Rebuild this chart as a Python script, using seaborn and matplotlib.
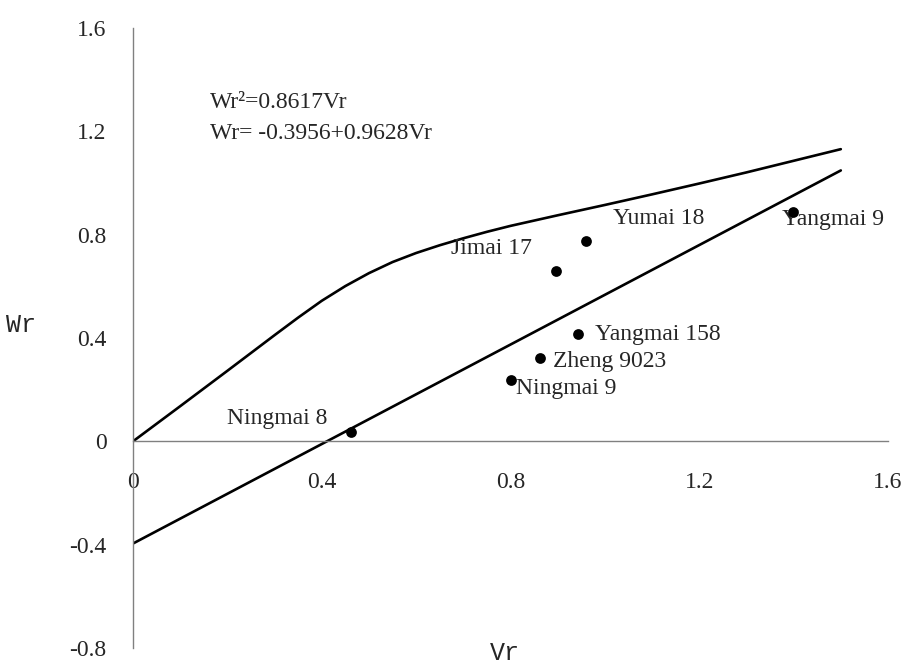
import matplotlib
matplotlib.use("Agg")
import matplotlib.pyplot as plt
import seaborn as sns
import pandas as pd
from matplotlib.ticker import FuncFormatter

# datos
curva_vr = [0, 0.1, 0.2, 0.3, 0.35, 0.4, 0.45, 0.5, 0.55, 0.6, 0.65, 0.7, 0.75, 0.8,
            0.9, 1.0, 1.1, 1.2, 1.3, 1.4, 1.5]
curva_wr = [0, 0.136, 0.273, 0.411, 0.479, 0.544, 0.601, 0.651, 0.694, 0.729, 0.759,
            0.786, 0.811, 0.834, 0.875, 0.915, 0.956, 0.998, 1.041, 1.086, 1.131]

recta_vr = [0.0, 1.5]
recta_wr = [-0.3956, 1.0486]

variedades = ["Ningmai 8", "Ningmai 9", "Zheng 9023", "Yangmai 158", "Jimai 17", "Yumai 18", "Yangmai 9"]
vr = [0.463, 0.800, 0.862, 0.942, 0.896, 0.959, 1.399]
wr = [0.035, 0.237, 0.322, 0.415, 0.660, 0.776, 0.886]

x_ticks = [0, 0.4, 0.8, 1.2, 1.6]
y_ticks = [-0.8, -0.4, 0, 0.4, 0.8, 1.2, 1.6]

# desplazamiento de etiquetas (pixeles) y alineacion
offsets = {
    "Ningmai 8": (-24, 14, "right"),
    "Ningmai 9": (6, -8, "left"),
    "Zheng 9023": (13, -3, "left"),
    "Yangmai 158": (17, 0, "left"),
    "Jimai 17": (-24, 22, "right"),
    "Yumai 18": (27, 22, "left"),
    "Yangmai 9": (-11, -7, "left"),
}

sns.set_style("white")
plt.rcParams["font.family"] = ["Liberation Serif", "DejaVu Serif"]
plt.rcParams["axes.unicode_minus"] = False

df_curva = pd.DataFrame({"Vr": curva_vr, "Wr": curva_wr})
df_recta = pd.DataFrame({"Vr": recta_vr, "Wr": recta_wr})
df_pts = pd.DataFrame({"Vr": vr, "Wr": wr, "nombre": variedades})

fig = plt.figure(figsize=(9.1, 6.68), dpi=100)
ax = fig.add_axes([133 / 910, 20 / 668, 755 / 910, 620 / 668])

sns.lineplot(data=df_curva, x="Vr", y="Wr", color="black", linewidth=1.9, estimator=None, ax=ax)
sns.lineplot(data=df_recta, x="Vr", y="Wr", color="black", linewidth=1.9, estimator=None, ax=ax)
sns.scatterplot(data=df_pts, x="Vr", y="Wr", color="black", s=60, edgecolor="black", linewidth=0, zorder=5, ax=ax)

for n, x, y in zip(variedades, vr, wr):
    dx, dy, ha = offsets[n]
    ax.annotate(n, (x, y), xytext=(dx, dy), textcoords="offset pixels",
                ha=ha, va="center", fontsize=17)

ax.text(0.163, 1.31, "Wr\u00b2=0.8617Vr", fontsize=17, va="center", ha="left")
ax.text(0.163, 1.19, "Wr= -0.3956+0.9628Vr", fontsize=17, va="center", ha="left")

ax.set_xlim(0, 1.6)
ax.set_ylim(-0.8, 1.6)
ax.set_xticks(x_ticks)
ax.set_yticks(y_ticks)
fmt = FuncFormatter(lambda v, p: "%g" % round(v, 2))
ax.xaxis.set_major_formatter(fmt)
ax.yaxis.set_major_formatter(fmt)

ax.spines["top"].set_visible(False)
ax.spines["right"].set_visible(False)
ax.spines["bottom"].set_position(("data", 0))
for s in ["left", "bottom"]:
    ax.spines[s].set_color("#808080")
    ax.spines[s].set_linewidth(1.0)
ax.tick_params(direction="in", length=6, width=1, color="#808080", labelsize=17)
ax.tick_params(axis="x", pad=22)
ax.tick_params(axis="y", pad=19)

mono = ["Liberation Mono", "DejaVu Sans Mono"]
ax.set_xlabel("Vr", fontsize=18, family=mono)
ax.set_ylabel("Wr", fontsize=18, rotation=0, family=mono)
ax.xaxis.set_label_coords(0.493, -0.008)
ax.yaxis.set_label_coords(-0.148, 0.521)
ax.xaxis.label.set_va("center")
ax.yaxis.label.set_va("center")
ax.yaxis.label.set_ha("center")

fig.savefig("out.png", dpi=100)
